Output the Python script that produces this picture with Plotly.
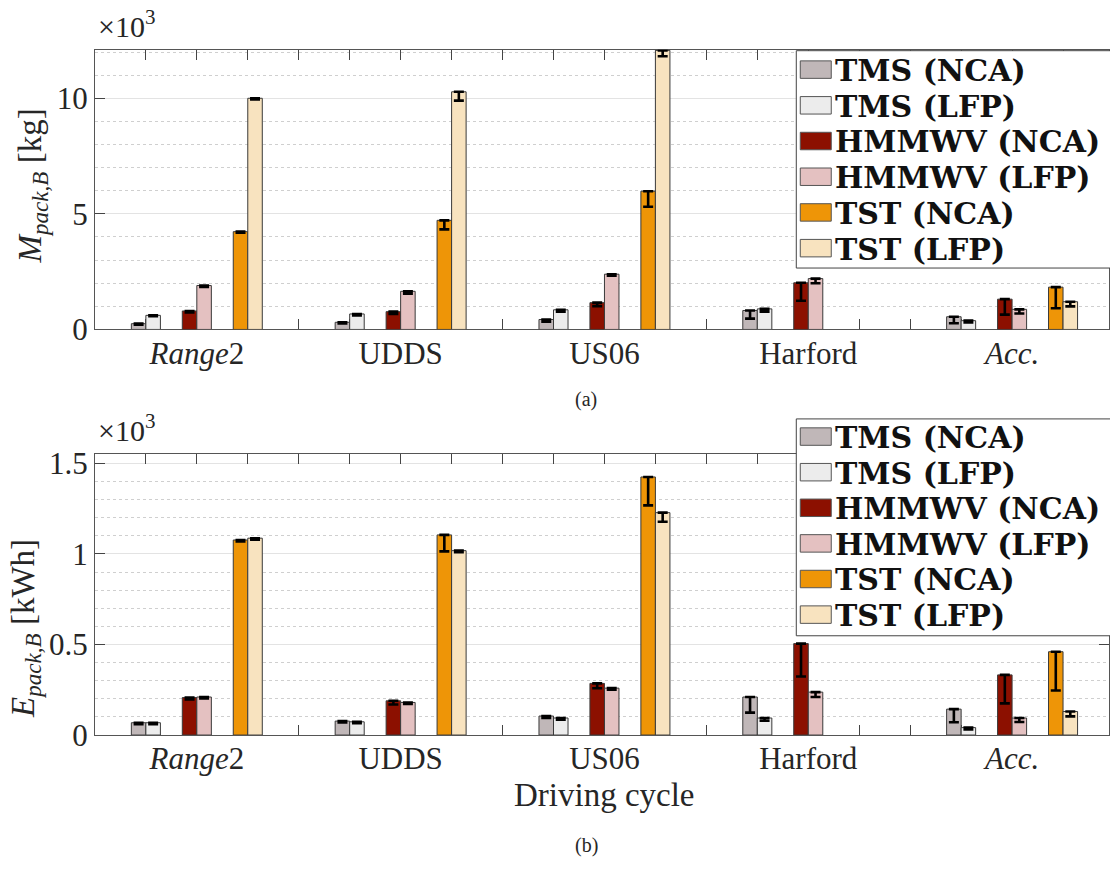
import plotly.graph_objects as go

# ---------------- data ----------------
cycles = ["<i>Range</i>2", "UDDS", "US06", "Harford", "<i>Acc.</i>"]
vehicles = ["TMS", "HMMWV", "TST"]
chems = ["NCA", "LFP"]

# (a) battery pack mass, x10^3 kg : bar value (upper) and downward error span
mass_tms_nca = [0.25, 0.31, 0.43, 0.82, 0.55]
mass_tms_nca_err = [0.04, 0.05, 0.10, 0.35, 0.28]
mass_tms_lfp = [0.61, 0.67, 0.85, 0.89, 0.38]
mass_tms_lfp_err = [0.04, 0.06, 0.08, 0.12, 0.08]
mass_hmmwv_nca = [0.80, 0.77, 1.16, 2.02, 1.31]
mass_hmmwv_nca_err = [0.06, 0.10, 0.15, 0.78, 0.67]
mass_hmmwv_lfp = [1.90, 1.65, 2.39, 2.20, 0.87]
mass_hmmwv_lfp_err = [0.06, 0.10, 0.07, 0.20, 0.18]
mass_tst_nca = [4.23, 4.72, 5.98, None, 1.83]
mass_tst_nca_err = [0.05, 0.39, 0.67, None, 0.91]
mass_tst_lfp = [10.0, 10.28, 12.07, None, 1.20]
mass_tst_lfp_err = [0.05, 0.38, 0.25, None, 0.20]

# (b) battery pack energy, x10^3 kWh
en_tms_nca = [0.068, 0.077, 0.105, 0.210, 0.143]
en_tms_nca_err = [0.008, 0.008, 0.010, 0.086, 0.072]
en_tms_lfp = [0.068, 0.073, 0.094, 0.094, 0.041]
en_tms_lfp_err = [0.008, 0.008, 0.010, 0.015, 0.010]
en_hmmwv_nca = [0.207, 0.189, 0.285, 0.505, 0.332]
en_hmmwv_nca_err = [0.010, 0.020, 0.027, 0.182, 0.157]
en_hmmwv_lfp = [0.210, 0.180, 0.259, 0.237, 0.094]
en_hmmwv_lfp_err = [0.008, 0.008, 0.008, 0.027, 0.022]
en_tst_nca = [1.077, 1.105, 1.425, None, 0.460]
en_tst_nca_err = [0.008, 0.091, 0.157, None, 0.214]
en_tst_lfp = [1.087, 1.018, 1.228, None, 0.130]
en_tst_lfp_err = [0.008, 0.008, 0.050, None, 0.027]

legend_labels = ["TMS (NCA)", "TMS (LFP)", "HMMWV (NCA)", "HMMWV (LFP)", "TST (NCA)", "TST (LFP)"]
colors = ["#C0B7B8", "#ECECEC", "#8C1000", "#E4C1C1", "#EE9507", "#F8E3BF"]

mass_series = [
    (mass_tms_nca, mass_tms_nca_err), (mass_tms_lfp, mass_tms_lfp_err),
    (mass_hmmwv_nca, mass_hmmwv_nca_err), (mass_hmmwv_lfp, mass_hmmwv_lfp_err),
    (mass_tst_nca, mass_tst_nca_err), (mass_tst_lfp, mass_tst_lfp_err),
]
energy_series = [
    (en_tms_nca, en_tms_nca_err), (en_tms_lfp, en_tms_lfp_err),
    (en_hmmwv_nca, en_hmmwv_nca_err), (en_hmmwv_lfp, en_hmmwv_lfp_err),
    (en_tst_nca, en_tst_nca_err), (en_tst_lfp, en_tst_lfp_err),
]

# ---------------- layout helpers ----------------
W, H = 1110, 875
def px(x):
    return x / W
def py(y):
    return 1 - y / H

SERIF = "Liberation Serif, Times New Roman, serif"
BSERIF = "DejaVu Serif, serif"
TXT = "#262626"
BAR_W = 0.285
n_groups = len(cycles)
slots = len(vehicles) + 1  # vehicles + one gap slot per cycle

def xpos(j):
    return [slots * i + j + 1 for i in range(n_groups)]

fig = go.Figure()

for panel, series in ((1, mass_series), (2, energy_series)):
    for k, (vals, errs) in enumerate(series):
        j = k // 2
        is_nca = (k % 2 == 0)
        fig.add_trace(go.Bar(
            x=xpos(j), y=vals,
            offset=-BAR_W if is_nca else 0, width=BAR_W,
            marker=dict(color=colors[k], line=dict(color="#3a3a3a", width=1)),
            error_y=dict(type="data", symmetric=False,
                         array=[0 if e is not None else None for e in errs],
                         arrayminus=errs, color="black", thickness=2.6, width=5),
            name=legend_labels[k], showlegend=False,
            xaxis="x" if panel == 1 else "x2",
            yaxis="y" if panel == 1 else "y2",
        ))

label_pos = [slots * i + 2 for i in range(n_groups)]

x_left, x_right = 95, 1110
x_unit = 51.0
xrange_ = [0, (x_right - x_left) / x_unit]

common_x = dict(range=xrange_, tickvals=label_pos, ticktext=cycles,
                ticks="inside", ticklen=10, tickcolor="#444", showline=True,
                linecolor="#555", linewidth=1, mirror="ticks", showgrid=False,
                zeroline=False, layer="below traces", ticklabelstandoff=-4,
                minor=dict(tick0=0, dtick=1, ticks="inside", ticklen=10,
                           tickcolor="#444", showgrid=False),
                tickfont=dict(family=SERIF, size=31, color=TXT))
common_y = dict(ticks="inside", ticklen=10, tickcolor="#444", showline=True,
                linecolor="#555", linewidth=1, mirror="ticks", showgrid=True,
                gridcolor="#e3e3e3", gridwidth=1, zeroline=False, layer="below traces",
                tickfont=dict(family=SERIF, size=31, color=TXT))

fig.update_layout(
    width=W, height=H, margin=dict(l=0, r=0, t=0, b=0),
    paper_bgcolor="white", plot_bgcolor="white",
    barmode="overlay", showlegend=False,
    xaxis=dict(domain=[px(x_left), px(x_right)], anchor="y", **common_x),
    yaxis=dict(domain=[py(331.3), py(43)], anchor="x", range=[0, 12.1],
               tickvals=[0, 5, 10], ticktext=["0", "5", "10"],
               minor=dict(dtick=1, showgrid=True, gridcolor="#cfcfcf", griddash="dot", ticks=""),
               **common_y),
    xaxis2=dict(domain=[px(x_left), px(x_right)], anchor="y2", **common_x),
    yaxis2=dict(domain=[py(749.3), py(460)], anchor="x2", range=[0, 1.55],
                tickvals=[0, 0.5, 1, 1.5], ticktext=["0", "0.5", "1", "1.5"],
                minor=dict(dtick=0.1, showgrid=True, gridcolor="#cfcfcf", griddash="dot", ticks=""),
                **common_y),
)

annotations = []
shapes = []

def txt(x, y, s, size, xanchor="center", yanchor="middle", angle=0, family=SERIF):
    annotations.append(dict(x=px(x), y=py(y), xref="paper", yref="paper", text=s,
                            showarrow=False, xanchor=xanchor, yanchor=yanchor,
                            textangle=angle, font=dict(family=family, size=size, color=TXT)))

# axis titles and multipliers
txt(33, 183, "<i>M</i><sub><i>pack,B</i></sub> [kg]", 33, angle=-90)
txt(25, 639, "<i>E</i><sub><i>pack,B</i></sub> [kWh]", 33, angle=-90)
txt(96, 38, "×10<sup>3</sup>", 30, xanchor="left", yanchor="bottom")
txt(96, 455, "×10<sup>3</sup>", 30, xanchor="left", yanchor="bottom")
txt(605, 811, "Driving cycle", 33)
txt(587, 403, "(a)", 20)
txt(587, 863, "(b)", 20)

# manual legends
def legend_box(top, bottom, rows):
    shapes.append(dict(type="rect", xref="paper", yref="paper",
                       x0=px(797), x1=px(1113), y0=py(bottom), y1=py(top),
                       fillcolor="white", line=dict(color="#444", width=1), layer="above"))
    for k, yc in enumerate(rows):
        shapes.append(dict(type="rect", xref="paper", yref="paper",
                           x0=px(801), x1=px(832), y0=py(yc + 9), y1=py(yc - 9),
                           fillcolor=colors[k], line=dict(color="#555", width=1), layer="above"))
        annotations.append(dict(x=px(834), y=py(yc + 1), xref="paper", yref="paper",
                                text="<b>" + legend_labels[k] + "</b>", showarrow=False,
                                xanchor="left", yanchor="middle",
                                font=dict(family=BSERIF, size=30, color="#111")))

legend_box(44, 268, [63.5, 100.3, 137.1, 173.9, 210.7, 247.5])
legend_box(423.5, 647, [441.7, 478.4, 515.1, 551.8, 588.5, 625.2])

fig.update_layout(annotations=annotations, shapes=shapes)

fig.write_html("out.html", config={"displayModeBar": False},
               post_script="document.body.style.margin='0px';")
